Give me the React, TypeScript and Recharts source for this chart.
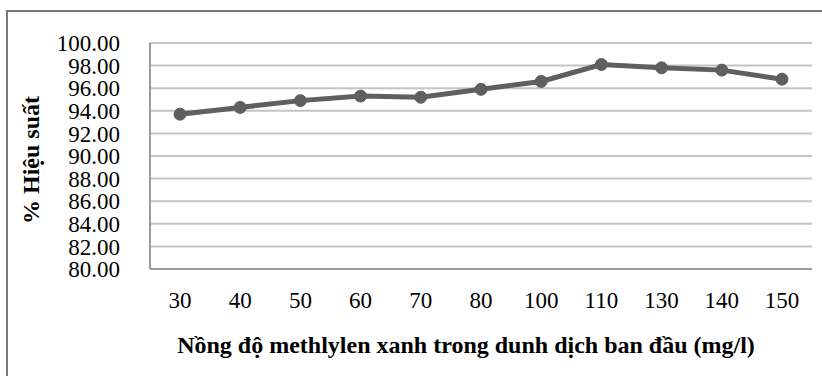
import { LineChart, Line, XAxis, YAxis, CartesianGrid } from 'recharts';

const concentrations = ['30', '40', '50', '60', '70', '80', '100', '110', '130', '140', '150'];
const efficiency = [93.7, 94.3, 94.9, 95.3, 95.2, 95.9, 96.6, 98.1, 97.8, 97.6, 96.8];
const yTicks = [80, 82, 84, 86, 88, 90, 92, 94, 96, 98, 100];

const data = concentrations.map((c, i) => ({ c, value: efficiency[i] }));

const font = '"Liberation Serif", "Times New Roman", serif';
const frame = { stroke: '#9a9a9a', strokeWidth: 2 };

const App = () => {
    return (
        <div style={{ position: 'fixed', left: 0, top: 0, width: 822, height: 376, background: '#fff', overflow: 'hidden' }}>
            <div style={{
                position: 'absolute',
                left: 6,
                top: 10,
                width: 900,
                height: 500,
                border: '2px solid #7a7a7a',
            }} />
            <LineChart
                width={822}
                height={376}
                data={data}
                margin={{ top: 43, right: 10, bottom: 0, left: 0 }}
                style={{ position: 'absolute', left: 0, top: 0 }}
            >
                <CartesianGrid vertical={false} stroke="#c4c4c4" strokeWidth={2} />
                <XAxis
                    dataKey="c"
                    height={107}
                    padding={{ left: 30, right: 30 }}
                    axisLine={frame}
                    tickLine={false}
                    tickSize={0}
                    tickMargin={23}
                    tick={{ fill: '#000', fontSize: 23, fontFamily: font }}
                    interval={0}
                />
                <YAxis
                    width={150}
                    domain={[80, 100]}
                    ticks={yTicks}
                    interval={0}
                    axisLine={frame}
                    tickLine={false}
                    tickSize={0}
                    tickMargin={30}
                    tickFormatter={(v: number) => v.toFixed(2)}
                    tick={{ fill: '#000', fontSize: 23, fontFamily: font }}
                />
                <YAxis
                    yAxisId="frame"
                    orientation="right"
                    width={0}
                    domain={[80, 100]}
                    axisLine={frame}
                    tickLine={false}
                    tick={false}
                />
                <Line
                    dataKey="value"
                    stroke="#5f5f5f"
                    strokeWidth={5}
                    dot={{ r: 6, fill: '#5f5f5f', stroke: '#5f5f5f', strokeWidth: 1 }}
                    isAnimationActive={false}
                />
            </LineChart>
            <div style={{
                position: 'absolute',
                left: 0,
                top: 333,
                width: 932,
                textAlign: 'center',
                fontFamily: font,
                fontWeight: 'bold',
                fontSize: 24,
                lineHeight: '24px',
                color: '#000',
                whiteSpace: 'nowrap',
            }}>
                Nồng độ methlylen xanh trong dunh dịch ban đầu (mg/l)
            </div>
            <div style={{
                position: 'absolute',
                left: -69,
                top: 146,
                width: 200,
                height: 28,
                lineHeight: '28px',
                textAlign: 'center',
                transform: 'rotate(-90deg)',
                fontFamily: font,
                fontWeight: 'bold',
                fontSize: 24,
                color: '#000',
                whiteSpace: 'nowrap',
            }}>
                % Hiệu suất
            </div>
        </div>
    );
};

export default App;
